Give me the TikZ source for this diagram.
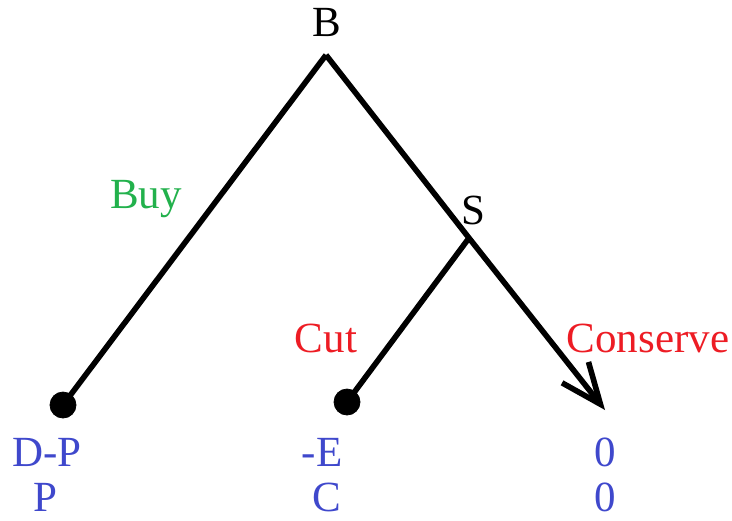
\documentclass[tikz,border=0pt]{standalone}
\usepackage{fontspec}
\setmainfont{Liberation Serif}
\usepackage{tikz}
\usetikzlibrary{positioning, arrows.meta}

\definecolor{movegreen}{RGB}{34,177,76}
\definecolor{movered}{RGB}{237,28,36}
\definecolor{payblue}{RGB}{63,72,204}

\begin{document}
\begin{tikzpicture}[
            x=0.5pt, y=-0.5pt,
            font=\fontsize{21.5}{26}\selectfont,
            branch/.style={line width=2.8pt, black},
            leaf/.style={draw, circle, fill=black, minimum size=13pt, inner sep=0pt},
            player/.style={anchor=base, black},
            move/.style={anchor=base},
            payoff/.style={anchor=base, payblue}
        ]
        \useasboundingbox (0,0) rectangle (732,520);

        % ======================================
        % Decision nodes
        % ======================================
        \coordinate (root) at (326,55);
        \node[player] (B) at (327,36) {B};

        \coordinate (split) at (469,238);
        \node[player] (S) at (473,224) {S};

        % ======================================
        % Terminal nodes
        % ======================================
        \coordinate (conserve-end) at (605,410);

        % ======================================
        % Branches
        % ======================================
        \draw[branch] (root) -- (63,405) coordinate (buy-end);
        \draw[branch] (split) -- (347,402) coordinate (cut-end);
        \draw[branch, -{Straight Barb[angle=45:22pt]}] (root) -- (split) -- (conserve-end);

        \node[leaf] (buy-leaf) at (buy-end) {};
        \node[leaf] (cut-leaf) at (cut-end) {};

        % ======================================
        % Move labels
        % ======================================
        \node[move, movegreen] (buy) at (146,208) {Buy};
        \node[move, movered] (cut) at (326,352) {Cut};
        \node[move, movered] (conserve) at (648,352) {Conserve};

        % ======================================
        % Payoffs
        % ======================================
        \node[payoff] (pay-buy-1) at (47,466) {D-P};
        \node[payoff] (pay-buy-2) at (45,511) {P};
        \node[payoff] (pay-cut-1) at (322,466) {-E};
        \node[payoff] (pay-cut-2) at (327,511) {C};
        \node[payoff] (pay-con-1) at (605,466) {0};
        \node[payoff] (pay-con-2) at (605,511) {0};

    \end{tikzpicture}
\end{document}
